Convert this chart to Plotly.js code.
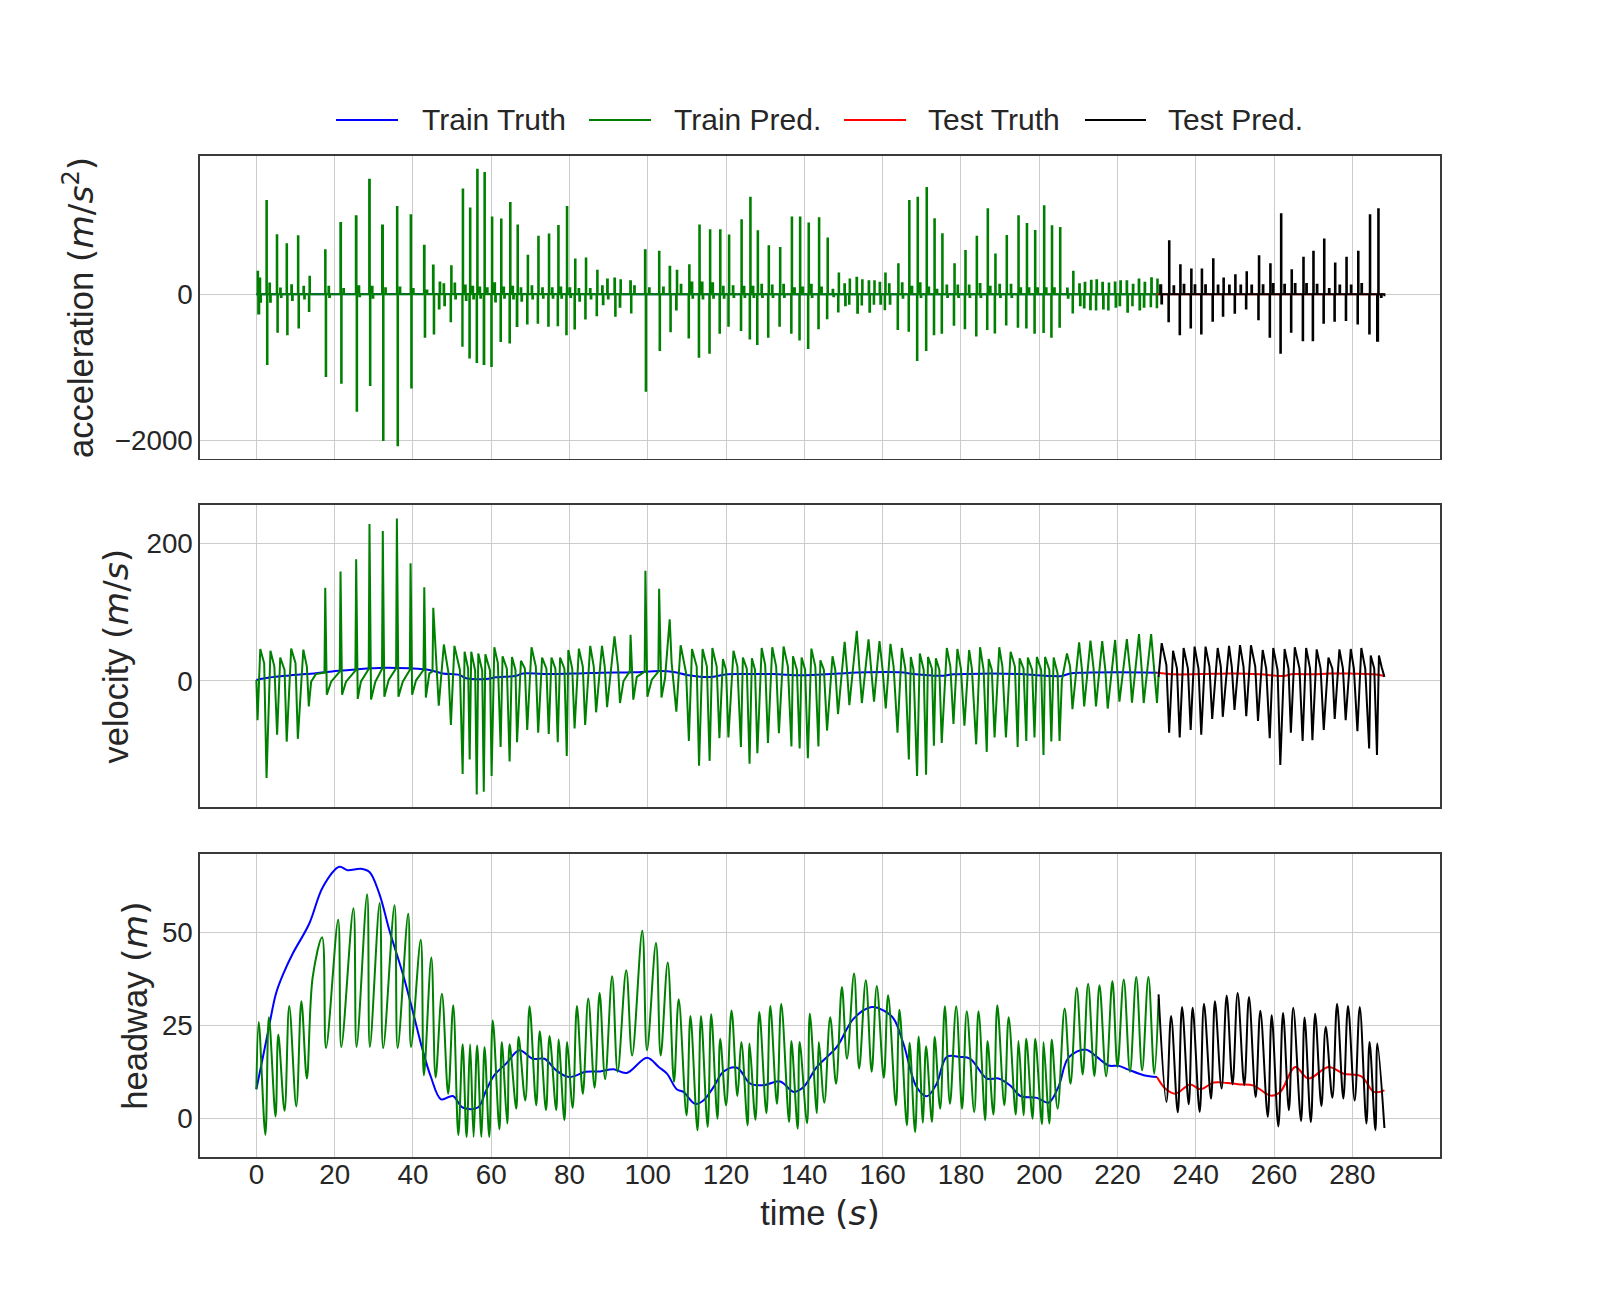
<!DOCTYPE html>
<html>
<head>
<meta charset="utf-8">
<script src="https://cdn.plot.ly/plotly-3.0.1.min.js"></script>
<style>html,body{margin:0;padding:0;background:#fff;}</style>
</head>
<body>
<div id="chart" style="width:1600px;height:1300px;"></div>
<script>
// ---- series names / colours ----
const seriesNames = ['Train Truth', 'Train Pred.', 'Test Truth', 'Test Pred.'];
const seriesColors = ['#0000ff', '#008000', '#ff0000', '#000000'];
const timeTicks = [0, 20, 40, 60, 80, 100, 120, 140, 160, 180, 200, 220, 240, 260, 280];

// ---- acceleration (m/s^2): [time, value] ----
const accTrainTruth = [[0,0],[20,2],[40,-2],[60,1],[100,-1],[150,1],[200,0],[230.1,0]];
const accTestTruth = [[230.1,0],[250,1],[265,-1],[288.2,0]];
const accTrainPred = [[0,0],[0.3,305],[0.45,-264],[0.75,214],[1.0,-105],[1.2,0],
[2.55,1276],[2.7,-957],[2.85,0],[3.3,146],[3.5,-105],[3.7,0],
[5.2,806],[5.35,-515],[5.5,0],[6.05,77],[6.25,-40],[6.45,0],
[7.7,683],[7.85,-547],[8.0,0],[8.9,123],[9.1,-80],[9.3,0],
[10.6,793],[10.75,-456],[10.9,0],[12.0,100],[12.2,-60],[12.4,0],
[13.4,-232],[13.55,237],[13.7,0],
[17.55,601],[17.7,-1121],[17.85,0],[18.4,100],[18.6,-40],[18.8,0],
[21.45,975],[21.65,-1212],[21.8,0],[22.2,70],[22.4,0],
[25.4,1066],[25.6,-1595],[25.75,0],[26.1,110],[26.3,-30],[26.5,0],
[28.8,1567],[29.0,-1244],[29.15,0],[29.5,100],[29.7,-50],[29.9,0],
[32.1,939],[32.35,-1995],[32.5,0],[32.9,80],[33.1,0],
[35.9,1194],[36.05,-2068],[36.2,0],[36.6,90],[36.8,0],
[39.4,1080],[39.55,-1276],[39.7,0],[40.0,70],[40.2,0],
[42.8,661],[43.0,-583],[43.15,0],[43.5,50],[43.7,0],
[45.1,392],[45.3,-538],[45.45,0],[46.6,-196],[46.8,160],[47.0,0],[47.8,137],[48.0,-150],[48.2,0],
[49.6,-369],[49.75,383],[49.9,0],[50.6,146],[50.8,-60],[51.0,0],
[52.6,-706],[52.7,1431],[52.85,0],[53.3,120],[53.5,-80],[53.7,0],
[54.4,-866],[54.55,1171],[54.7,0],[55.2,100],[55.4,-60],[55.6,0],
[56.25,-929],[56.4,1704],[56.55,0],[57.0,90],[57.2,-50],[57.4,0],
[58.05,-957],[58.25,1658],[58.4,0],[58.9,80],[59.1,0],
[60.0,-984],[60.15,1048],[60.3,0],[60.8,150],[61.0,-100],[61.2,0],
[62.35,-642],[62.5,1021],[62.65,0],[63.1,90],[63.3,-50],[63.5,0],
[64.65,-661],[64.8,1248],[64.95,0],[65.4,100],[65.6,-60],[65.8,0],
[66.5,-437],[66.7,939],[66.85,0],[67.5,80],[67.7,-90],[67.9,0],
[69.15,-401],[69.3,524],[69.45,0],[70.3,110],[70.5,-60],[70.7,0],
[71.85,-392],[72.0,784],[72.15,0],[73.0,80],[73.2,-50],[73.4,0],
[74.55,-433],[74.7,816],[74.85,0],[75.5,80],[75.7,-50],[75.9,0],
[76.95,-424],[77.1,934],[77.25,0],[77.7,90],[77.9,-50],[78.1,0],
[79.15,-547],[79.3,1194],[79.45,0],[80.0,80],[80.2,-40],[80.4,0],
[81.25,-469],[81.4,474],[81.55,0],[82.3,70],[82.5,-90],[82.7,0],
[84.0,-333],[84.15,487],[84.3,0],[85.2,70],[85.4,-60],[85.6,0],
[86.9,-287],[87.05,319],[87.2,0],[88.3,109],[88.5,-137],[88.7,0],
[89.6,200],[89.8,-60],[90.0,0],
[91.45,214],[91.65,-296],[91.8,0],
[92.8,-173],[93.0,191],[93.15,0],
[95.5,178],[95.7,-251],[95.85,0],[96.5,109],[96.7,0],
[99.25,601],[99.45,-1321],[99.6,0],[100.3,80],[100.5,0],
[102.85,579],[103.0,-765],[103.15,0],[103.9,90],[104.1,0],
[105.55,374],[105.75,-506],[105.9,0],
[107.2,-210],[107.4,319],[107.55,0],[108.4,130],[108.6,0],
[110.4,-592],[110.55,396],[110.7,0],[111.2,160],[111.4,-50],[111.6,0],
[113.0,-857],[113.15,939],[113.3,0],[113.8,160],[114.0,-60],[114.2,0],
[115.7,-802],[115.85,875],[116.0,0],[116.5,150],[116.7,-50],[116.9,0],
[118.3,-528],[118.45,875],[118.6,0],[119.2,100],[119.4,-50],[119.6,0],
[120.55,-433],[120.7,802],[120.85,0],[121.7,110],[121.9,-40],[122.1,0],
[123.75,-492],[123.9,1011],[124.05,0],[124.5,100],[124.7,-40],[124.9,0],
[126.0,-606],[126.15,1321],[126.3,0],[126.8,100],[127.0,-40],[127.2,0],
[127.9,-683],[128.05,861],[128.2,0],[129.0,130],[129.2,-40],[129.4,0],
[130.7,-583],[130.85,656],[131.0,0],[131.7,120],[131.9,-40],[132.1,0],
[133.6,-433],[133.75,633],[133.9,0],[134.6,130],[134.8,-40],[135.0,0],
[136.6,-528],[136.75,1048],[136.9,0],[137.4,80],[137.6,0],
[138.7,-620],[138.85,1048],[139.0,0],[139.5,90],[139.7,0],
[140.9,-738],[141.05,966],[141.2,0],[141.7,130],[141.9,-40],[142.1,0],
[143.55,-465],[143.7,1039],[143.85,0],[144.3,90],[144.5,0],
[145.75,-328],[145.9,761],[146.05,0],[147.2,60],[147.4,-30],[147.6,0],
[148.6,-237],[148.75,282],[148.9,0],[150.2,137],[150.4,-150],[150.6,0],
[151.4,-130],[151.55,200],[151.7,0],[153.3,223],[153.5,-255],[153.7,0],
[154.6,-140],[154.75,191],[154.9,0],[156.4,178],[156.6,-241],[156.8,0],
[157.7,-130],[157.85,178],[158.0,0],[159.2,155],[159.4,-130],[159.6,0],
[160.5,-205],[160.65,282],[160.8,0],[161.6,137],[161.8,-130],[162.0,0],
[163.8,-478],[163.95,410],[164.1,0],[164.9,150],[165.1,-50],[165.3,0],
[166.6,-501],[166.75,1276],[166.9,0],[167.4,100],[167.6,0],
[168.75,-902],[168.9,1321],[169.05,0],[169.5,150],[169.7,-40],[169.9,0],
[171.05,-765],[171.2,1453],[171.35,0],[171.7,90],[171.9,0],
[173.05,-547],[173.2,1025],[173.35,0],[173.8,60],[174.0,0],
[175.05,-528],[175.2,820],[175.35,0],[176.3,120],[176.5,-40],[176.7,0],
[178.15,-419],[178.3,410],[178.45,0],[179.1,120],[179.3,-40],[179.5,0],
[180.95,-465],[181.1,592],[181.25,0],[182.0,120],[182.2,-40],[182.4,0],
[183.85,-565],[184.0,784],[184.15,0],[184.8,140],[185.0,-40],[185.2,0],
[186.65,-478],[186.8,1162],[186.95,0],[187.4,100],[187.6,0],
[188.6,-524],[188.75,542],[188.9,0],[189.8,130],[190.0,-40],[190.2,0],
[191.5,-415],[191.65,797],[191.8,0],[192.7,130],[192.9,-40],[193.1,0],
[194.5,-446],[194.65,1066],[194.8,0],[195.2,80],[195.4,0],
[196.65,-456],[196.8,961],[196.95,0],[197.3,80],[197.5,0],
[198.75,-528],[198.9,866],[199.05,0],[199.5,80],[199.7,0],
[201.05,-519],[201.2,1203],[201.35,0],[201.7,80],[201.9,0],
[203.05,-583],[203.2,929],[203.35,0],[203.8,80],[204.0,0],
[205.15,-446],[205.3,907],[205.45,0],[207.1,77],[207.3,-50],[207.5,0],
[208.5,-251],[208.65,305],[208.8,0],[210.2,137],[210.4,-150],[210.6,0],
[211.4,-182],[211.6,155],[211.8,0],[213.0,-205],[213.2,182],[213.4,0],
[214.45,-210],[214.6,191],[214.8,0],[216.1,155],[216.3,-196],[216.5,0],
[217.6,-210],[217.75,146],[217.9,0],[219.3,160],[219.5,-173],[219.7,0],
[220.5,-150],[220.7,178],[220.9,0],[222.3,178],[222.5,-241],[222.7,0],
[223.75,-150],[223.9,130],[224.1,0],[225.4,200],[225.6,-210],[225.8,0],
[226.7,-173],[226.9,155],[227.1,0],[228.45,-164],[228.6,219],[228.8,0],
[230.0,-180],[230.15,200],[230.3,0],[230.5,0]];
const accTestPred = [[230.5,0],[230.9,123],[231.2,-128],[231.4,0],
[233.0,-369],[233.15,724],[233.3,0],[234.3,110],[234.5,0],
[235.85,-547],[236.0,396],[236.15,0],[236.9,130],[237.1,0],
[238.65,-456],[238.8,337],[238.95,0],[239.7,123],[239.9,0],
[241.35,-538],[241.5,337],[241.65,0],[242.4,123],[242.6,0],
[244.25,-364],[244.4,478],[244.55,0],[245.6,120],[245.8,0],
[246.9,-296],[247.05,214],[247.2,0],[248.5,120],[248.7,0],
[249.9,-255],[250.05,260],[250.2,0],[251.4,120],[251.6,0],
[252.8,-196],[252.95,301],[253.1,0],[254.2,120],[254.4,0],
[255.95,-342],[256.1,519],[256.25,0],[257.1,123],[257.3,0],
[258.85,-583],[259.0,410],[259.15,0],[259.7,140],[259.9,0],
[261.6,-802],[261.75,1093],[261.9,0],[262.6,130],[262.8,0],
[264.3,-515],[264.45,328],[264.6,0],[265.3,140],[265.5,0],
[267.3,-629],[267.45,497],[267.6,0],[268.2,140],[268.4,0],
[269.85,-629],[270.0,579],[270.15,0],[270.9,130],[271.1,0],
[272.6,-392],[272.75,747],[272.9,0],[274.0,70],[274.2,0],
[275.4,-364],[275.55,419],[275.7,0],[276.7,120],[276.9,0],
[278.3,-355],[278.45,497],[278.6,0],[279.6,120],[279.8,0],
[281.3,-401],[281.45,579],[281.6,0],[282.3,140],[282.5,0],
[284.3,-538],[284.45,1080],[284.6,0],
[286.3,-638],[286.6,1162],[286.75,0],[287.3,-40],[287.5,0],[288.2,-30]];

// ---- velocity (m/s): [time, value] ----
const velTrainTruth = [[0,1.5],[3.3,5],[8.4,8],[12.7,10],[18.7,13.6],[23.8,16],[28.9,18.4],[33.1,19.4],[39.1,18.4],[44.2,16],[47.6,11],[51.9,8.7],[53.6,3.9],[58.7,2.9],[61.2,5.3],[66.4,7.7],[68.1,11],[74,10],[82.5,11],[88,12],[96.3,12.6],[103.2,14.5],[106.6,13],[110,8.7],[113.4,6.3],[116.8,6.3],[120.2,9.7],[126.2,10],[132.1,10],[139,8.2],[143.2,9.2],[149,11],[155.9,12.6],[164.5,12.6],[167.9,10],[173,7.7],[175.6,7.7],[178.1,9.7],[185.8,10.7],[195.2,10],[202.8,7.3],[205.8,7.3],[207.9,11],[211.3,12],[219.9,12.6],[230.1,12]];
const velTestTruth = [[230.1,12],[234.3,9.7],[241.2,10],[249.7,11],[256.5,9.7],[262.3,7.3],[264.9,10],[270,9.7],[274.2,11],[280.1,10.7],[285.4,9.7],[288.2,7.3]];
const velTrainPred = [[0,1.5],[0.3,-57],[1.0,46.5],[2.0,25.7],[2.6,-141],[3.6,44],[4.6,21],[5.3,-78],[6.1,34],[7.2,16],[7.75,-88],[8.9,47],[10.0,26],[10.6,-84],[12.0,45.5],[12.9,21],[13.4,-37],[14.0,-1],[15.2,10],[17.4,12],[17.6,135.6],[18.0,-20],[19.1,-1],[21.3,13.6],[21.5,159],[21.9,-20],[22.9,-1],[25.3,15],[25.5,177],[25.9,-26],[26.7,-1],[28.7,17.4],[28.9,228],[29.3,-27],[30.4,-1],[32.1,17.4],[32.3,218],[32.7,-23],[33.8,1.5],[35.7,18.4],[35.9,236],[36.3,-23],[37.4,-1],[39.2,16],[39.4,171],[39.8,-20],[40.8,1],[42.7,16],[42.9,136],[43.3,-24],[44.2,11],[45.0,14],[45.2,106.5],[45.9,26],[46.6,-36],[47.9,53],[49.1,11],[49.7,-64],[50.6,51],[52.0,16],[52.7,-135],[53.2,42.6],[54.1,18],[54.5,-114],[54.9,42.6],[55.9,15],[56.3,-165],[56.7,40],[57.7,15],[58.1,-161],[58.5,39],[59.7,15],[60.1,-138],[60.8,49],[61.7,26],[62.4,-96],[62.9,36],[64.0,18],[64.7,-117],[65.3,35],[66.2,16],[66.6,-89],[67.6,29.5],[68.6,18],[69.2,-71],[70.3,49],[71.4,21],[72.0,-75],[73.0,34],[74.1,18],[74.7,-77],[75.4,34],[76.4,18],[77.0,-89],[77.6,34],[78.7,18],[79.3,-109],[79.7,45],[80.7,18],[81.3,-69],[82.4,47],[83.4,21],[84.0,-64],[85.3,51],[86.2,21],[86.8,-45.5],[88.3,51],[89.0,21],[89.6,-38],[91.5,65],[92.4,20],[92.9,-32],[93.8,0],[95.4,14],[95.6,67],[96.3,-27],[97.2,6],[99.2,13.6],[99.4,160],[99.9,-23],[101.0,1.5],[102.7,13.6],[102.9,134],[103.5,-24],[104.4,4],[105.6,89.6],[106.1,26],[107.3,-44.5],[108.4,52],[109.8,11],[110.5,-87],[111.3,46.5],[112.5,21],[113.1,-123],[114.0,46.5],[115.1,21],[115.8,-116],[116.5,48],[117.6,21],[118.3,-83],[119.2,32],[120.0,16],[120.6,-82],[121.9,44],[122.9,21],[123.8,-96],[124.3,34],[125.3,18],[126.0,-120],[126.6,33],[127.4,16],[128.0,-105],[129.1,48],[130.0,23],[130.7,-90],[131.8,49],[132.8,21],[133.5,-76],[134.7,50],[135.8,21],[136.7,-95],[137.1,36],[138.1,16],[138.8,-98],[139.3,34],[140.2,16],[140.9,-112],[141.8,47],[142.8,21],[143.6,-95],[144.1,30],[145.0,16],[145.8,-72],[147.2,36],[147.9,16],[148.6,-48],[150.3,57],[150.9,16],[151.5,-35],[153.4,73],[154.1,16],[154.7,-32],[156.4,60.5],[157.0,16],[157.8,-30],[159.2,58],[160.0,16],[160.8,-40],[162.0,54],[162.8,21],[163.8,-75],[164.9,48],[165.8,18],[166.7,-114],[167.2,35],[167.9,16],[168.8,-138],[169.5,40],[170.5,16],[171.1,-136],[171.6,35],[172.6,18],[173.1,-94],[173.6,33],[174.5,16],[175.1,-90],[176.4,48],[177.3,21],[178.1,-62.5],[179.1,46.5],[180.0,18],[180.9,-65],[182.1,45],[182.8,18],[183.9,-92],[184.9,49],[185.8,16],[186.6,-103],[187.1,32],[187.9,16],[188.6,-82],[189.8,49],[190.6,21],[191.5,-82],[192.7,42.5],[193.8,21],[194.5,-96],[195.0,33],[196.0,18],[196.7,-87],[197.1,34],[198.2,16],[198.8,-82],[199.4,35],[200.5,16],[201.1,-107.5],[201.5,35],[202.6,16],[203.1,-88],[203.7,34],[204.7,11],[205.2,-87],[205.8,1.5],[207.1,40],[207.9,21],[208.5,-41],[210.2,56],[210.9,18],[211.5,-37],[213.1,58.6],[213.9,18],[214.5,-37],[216.1,58],[216.9,16],[217.5,-40],[219.4,59.6],[220.0,16],[220.5,-30],[222.4,61],[223.2,16],[223.7,-31.5],[225.5,68],[226.2,16],[226.7,-32],[228.6,68],[229.3,16],[230.1,-32],[230.5,8]];
const velTestPred = [[230.5,6],[231.3,55],[232.5,23],[233.2,-75],[234.2,44],[235.2,18],[235.9,-82],[236.9,48],[238.0,18],[238.7,-71],[239.7,50],[240.7,18],[241.4,-78],[242.5,50],[243.5,21],[244.2,-55],[245.6,48],[246.4,21],[246.9,-52],[248.5,51],[249.2,21],[249.9,-42],[251.3,52],[252.2,21],[252.9,-51],[254.1,52],[255.2,21],[255.9,-58],[257.1,45],[258.0,18],[258.9,-83],[259.8,48],[260.9,16],[261.6,-122],[262.7,46.5],[263.7,18],[264.3,-75],[265.3,49],[266.5,18],[267.3,-87],[268.2,48],[269.2,18],[269.8,-86],[270.9,46],[271.9,18],[272.7,-71],[273.9,34],[274.9,18],[275.5,-55],[276.7,46],[277.6,18],[278.3,-57],[279.6,46.5],[280.4,18],[281.3,-73],[282.3,48],[283.3,18],[284.3,-98],[284.7,37],[285.6,18],[286.3,-107.5],[286.8,37],[287.5,20],[288.2,6]];

// ---- headway (m): [time, value] ----
const headTrainTruth = [[0,7.8],[2.9,22.8],[5,33.5],[6.9,38.9],[9.3,44.3],[13.5,52.3],[17,62.2],[21.2,67.6],[23.3,66.7],[26.7,67.1],[28.9,66.2],[31.4,60.4],[34,50.5],[37.4,38.9],[39.9,29],[42.5,18.3],[44.6,11.1],[47.2,5.1],[50.2,6.0],[52.7,2.9],[56.6,2.9],[58.7,7.5],[60.8,11.6],[63.8,14.7],[67.2,18.3],[70.6,16.0],[73.6,16.0],[76.6,12.9],[79.9,11.1],[84.2,12.5],[87.8,12.6],[91.2,13.2],[94.6,12.2],[99.8,16.3],[102.8,13.8],[104.9,12.0],[107.4,7.8],[109.1,7.1],[112.1,3.9],[114.2,4.8],[116.8,8.4],[119.3,12.5],[122.8,13.6],[126.2,9.3],[129.6,8.9],[133.8,9.9],[137.3,7.1],[139.8,8.4],[143.2,13.8],[148.3,19.2],[152.6,26.8],[157.2,29.9],[160.2,29.0],[162.8,26.8],[165.3,20.1],[168.7,8.4],[171.3,5.9],[173.8,9.3],[176.4,16.5],[179.8,16.5],[182.4,16.0],[186.6,10.7],[189.6,10.7],[192.6,8.8],[195.2,6.0],[199.4,5.5],[202.4,4.2],[204.9,8.4],[207.5,16.3],[211.8,18.5],[214.7,16.5],[217.7,14.2],[220.3,14.1],[222.8,13.1],[226.7,11.6],[230.1,11.1]];
const headTestTruth = [[230.1,11.1],[232.2,8.0],[234.8,6.6],[238.6,9.1],[241.2,7.8],[244.6,9.6],[248.0,9.5],[251.4,9.1],[254.8,8.8],[259.1,6.1],[261.6,7.1],[265.4,13.8],[268.8,10.7],[273.9,13.8],[277.8,12.0],[282.3,11.3],[285.5,7.1],[288.2,7.5]];
const headTrainPred = [[0,7.8],[0.6,25.9],[2.3,-4.4],[3.2,27.2],[4.9,0.5],[5.6,22.5],[7.2,2.0],[8.4,30.2],[10.2,3.2],[11.5,31.5],[12.9,10.7],[14.4,38.0],[16.8,48.7],[17.8,18.9],[20.9,53.4],[21.7,19.2],[24.8,56.5],[25.6,19.2],[28.3,60.2],[29.0,19.2],[31.5,57.9],[32.4,18.9],[35.3,57.3],[36.1,18.9],[38.8,55.0],[39.5,19.2],[42.0,48.0],[42.8,11.6],[44.7,43.2],[45.8,11.0],[47.4,33.5],[49.0,6.6],[50.3,30.4],[51.6,-4.5],[52.7,19.9],[53.7,-5],[54.6,19.9],[55.5,-5],[56.4,19.6],[57.5,-5],[58.3,19.2],[59.5,-5],[60.4,26.3],[62.1,-3],[62.7,20.5],[64.1,-1.4],[64.7,19.9],[66.4,2.6],[67.0,21.9],[68.7,4.8],[69.8,30.1],[71.5,3.5],[72.4,23.4],[74.0,2.2],[74.9,22.1],[76.6,2.2],[77.2,21.2],[78.7,-0.5],[79.4,20.5],[80.8,2.8],[81.9,30.2],[83.4,6.6],[84.8,32.2],[86.4,8.2],[87.7,33.7],[89.1,10.5],[90.9,38.2],[92.3,12.5],[94.5,39.8],[96.0,16.9],[98.6,50.4],[99.8,18.3],[102.1,47.1],[103.3,16.9],[105.1,41.9],[106.7,9.8],[107.9,32.0],[109.9,0.8],[110.9,27.5],[112.7,-3.2],[113.6,27.5],[115.3,-2.3],[116.2,28.0],[117.8,-0.1],[118.5,21.4],[120.0,3.5],[121.4,29.0],[122.9,6.0],[123.9,20.5],[125.5,-1.9],[126.0,20.1],[127.5,-0.4],[128.5,28.6],[130.3,1.4],[131.3,30.2],[133.0,3.9],[134.1,30.8],[136.1,-1.0],[136.7,20.8],[138.3,-2.8],[138.8,20.5],[140.7,-1.3],[141.4,28.1],[143.2,1.4],[143.7,20.5],[145.1,4.2],[146.6,27.2],[148.1,9.3],[149.6,35.3],[150.9,16.0],[152.7,38.9],[154.0,13.4],[155.7,37.1],[157.2,12.5],[158.5,35.6],[160.3,10.9],[161.4,33.1],[163.4,3.5],[164.3,29.2],[166.2,-1.9],[166.9,20.3],[168.3,-3.7],[169.2,22.0],[170.3,-1.2],[171.1,19.4],[172.6,-1.0],[173.3,21.9],[174.7,2.6],[175.9,30.1],[177.2,3.9],[178.8,30.1],[180.3,2.6],[181.5,28.8],[183.4,1.7],[184.5,28.8],[186.2,-0.5],[186.8,20.8],[188.3,1.0],[189.3,30.4],[191.1,3.5],[192.2,27.2],[194.0,1.0],[194.7,20.8],[196.0,0.8],[196.7,21.4],[198.3,-0.1],[199.0,21.4],[200.7,-1.6],[201.1,20.5],[202.6,-1.4],[203.2,21.2],[204.7,2.6],[206.5,29.5],[208.0,9.3],[209.6,35.1],[211.1,11.8],[212.5,36.2],[214.1,11.3],[215.4,35.8],[217.1,11.3],[218.7,36.9],[220.0,13.8],[221.6,37.3],[223.2,12.5],[224.8,38.0],[226.3,12.9],[227.9,38.0],[229.4,12.0],[230.5,32.2]];
const headTestPred = [[230.5,33.3],[232.5,4.4],[233.7,27.5],[235.4,1.6],[236.5,29.9],[238.2,3.8],[239.2,29.7],[241.0,1.7],[242.1,30.8],[243.9,5.3],[244.9,31.5],[246.6,8.0],[247.9,33.0],[249.4,9.1],[250.7,33.7],[252.4,8.9],[253.6,32.6],[255.3,5.7],[256.5,28.9],[258.4,0.4],[259.4,27.7],[261.1,-2.2],[262.3,28.3],[263.8,2.2],[264.9,29.7],[266.9,-0.7],[267.8,27.1],[269.4,-1.0],[270.5,28.1],[272.1,3.3],[273.2,24.6],[274.9,5.5],[276.1,30.8],[277.7,5.3],[278.9,30.2],[280.6,4.8],[281.9,29.9],[283.6,-1.4],[284.4,20.5],[285.9,-3.2],[286.4,20.1],[288.2,-2.6]];

// ---- build traces ----
function tr(pairs, idx, xa, ya, shape) {
  return {
    x: pairs.map(p => p[0]), y: pairs.map(p => p[1]),
    type: 'scatter', mode: 'lines', name: seriesNames[idx],
    legendgroup: seriesNames[idx], showlegend: false,
    line: {color: seriesColors[idx], width: 2, shape: shape},
    xaxis: xa, yaxis: ya, hoverinfo: 'skip'
  };
}
const data = [
  tr(accTrainTruth, 0, 'x', 'y', 'linear'),
  tr(accTrainPred, 1, 'x', 'y', 'hv'),
  tr(accTestTruth, 2, 'x', 'y', 'linear'),
  tr(accTestPred, 3, 'x', 'y', 'hv'),
  tr(velTrainTruth, 0, 'x2', 'y2', 'spline'),
  tr(velTrainPred, 1, 'x2', 'y2', 'linear'),
  tr(velTestTruth, 2, 'x2', 'y2', 'spline'),
  tr(velTestPred, 3, 'x2', 'y2', 'linear'),
  tr(headTrainTruth, 0, 'x3', 'y3', 'spline'),
  tr(headTrainPred, 1, 'x3', 'y3', 'spline'),
  tr(headTestTruth, 2, 'x3', 'y3', 'spline'),
  tr(headTestPred, 3, 'x3', 'y3', 'spline')
];

// ---- legend drawn above the top panel (paper coordinates) ----
const legendLineX = [[0.1097, 0.1597], [0.3137, 0.3637], [0.5194, 0.5694], [0.7137, 0.7629]];
const legendTextX = [0.1785, 0.3815, 0.5865, 0.7795];
const legendY = 1.036;
const textColor = '#262626';
const shapes = seriesNames.map((n, i) => ({
  type: 'line', xref: 'paper', yref: 'paper',
  x0: legendLineX[i][0], x1: legendLineX[i][1], y0: legendY, y1: legendY,
  line: {color: seriesColors[i], width: 2}
}));
const annotations = seriesNames.map((n, i) => ({
  text: n, xref: 'paper', yref: 'paper', x: legendTextX[i], y: legendY,
  xanchor: 'left', yanchor: 'middle', showarrow: false, borderpad: 0,
  font: {family: 'Liberation Sans', size: 30, color: textColor}
}));

const mathFont = "font-family:'DejaVu Sans'";
function xax(anchor, showLabels) {
  return {
    anchor: anchor, domain: [0, 1], range: [-14.4, 302.4],
    tickmode: 'array', tickvals: timeTicks, showticklabels: showLabels,
    showgrid: true, gridcolor: '#cccccc', gridwidth: 1, zeroline: false,
    showline: true, mirror: true, linecolor: '#3a3a3a', linewidth: 1.6, ticks: '',
    tickfont: {family: 'Liberation Sans', size: 27.8, color: textColor}
  };
}
function yax(domain, range, dtick, title, standoff) {
  return {
    domain: domain, range: range, dtick: dtick, tick0: 0,
    showgrid: true, gridcolor: '#cccccc', gridwidth: 1, zeroline: false,
    showline: true, mirror: true, linecolor: '#3a3a3a', linewidth: 1.6, ticks: '',
    tickfont: {family: 'Liberation Sans', size: 27.8, color: textColor},
    title: {text: title, standoff: standoff, font: {family: 'Liberation Sans', size: 34.5, color: textColor}}
  };
}
const layout = {
  width: 1600, height: 1300,
  margin: {l: 200, r: 160, t: 156, b: 143},
  paper_bgcolor: '#ffffff', plot_bgcolor: '#ffffff',
  font: {family: 'Liberation Sans', size: 28, color: textColor},
  showlegend: false,
  shapes: shapes,
  annotations: annotations,
  xaxis: xax('y', false),
  xaxis2: Object.assign(xax('y2', false), {matches: 'x'}),
  xaxis3: Object.assign(xax('y3', true), {matches: 'x', ticklabelstandoff: -8,
    title: {text: 'time <span style="' + mathFont + '">(<i>s</i>)</span>', standoff: 12,
            font: {family: 'Liberation Sans', size: 34.5, color: textColor}}}),
  yaxis: yax([0.6976, 1], [-2251.5, 1890.6], 2000,
    'acceleration <span style="' + mathFont + '">(<i>m</i>/<i>s</i><sup>2</sup>)</span>', 10),
  yaxis2: yax([0.3494, 0.6513], [-183.4, 255.6], 200,
    'velocity <span style="' + mathFont + '">(<i>m</i>/<i>s</i>)</span>', 7),
  yaxis3: yax([0, 0.3027], [-10.4, 71.05], 25,
    'headway <span style="' + mathFont + '">(<i>m</i>)</span>', 4)
};
Plotly.newPlot('chart', data, layout, {staticPlot: true, displayModeBar: false});
</script>
</body>
</html>
